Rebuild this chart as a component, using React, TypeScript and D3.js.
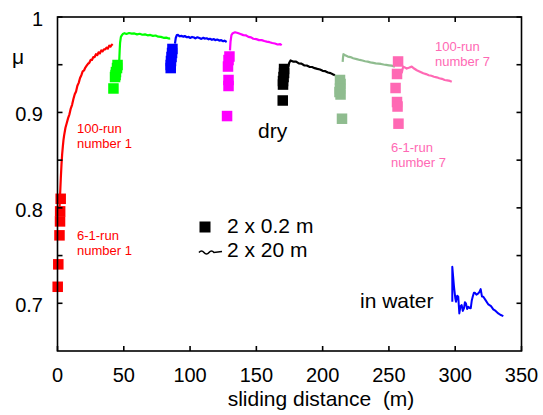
import React from "react";
import * as d3 from "d3";

// ---- data ----
const xTicks = [0, 50, 100, 150, 200, 250, 300, 350];
const xTopTicks = [50, 100, 150, 200, 250, 300];
const yTicks = [0.7, 0.75, 0.8, 0.85, 0.9, 0.95, 1];
const yTickLabels = ["0.7", "", "0.8", "", "0.9", "", "1"];

// 2 x 20 m continuous runs (dry)
const lineRed: [number, number][] = [
  [1.5, 0.8], [2, 0.815], [2.5, 0.831], [3, 0.845], [3.5, 0.856], [4, 0.864], [4.5, 0.871], [5, 0.876],
  [6, 0.884], [7, 0.889], [8, 0.894], [9, 0.898], [10, 0.904], [11, 0.908], [12, 0.914], [13, 0.919],
  [14, 0.922], [15, 0.928], [16, 0.931], [17, 0.936], [18, 0.939], [19, 0.943], [20, 0.944], [21, 0.947],
  [22, 0.949], [23, 0.951], [24, 0.952], [25, 0.955], [26, 0.955], [27, 0.958], [28, 0.958], [29, 0.961],
  [30, 0.96], [31, 0.963], [32, 0.962], [33, 0.965], [34, 0.964], [35, 0.966], [36, 0.966], [37, 0.968],
  [38, 0.967], [39, 0.97], [40, 0.969], [41, 0.971], [41.5, 0.97],
];
const lineGreen: [number, number][] = [
  [46.6, 0.955], [46.9, 0.965], [47.2, 0.973], [47.8, 0.979], [48.6, 0.981], [49.5, 0.9825], [50.5, 0.983],
  [52, 0.9822], [54, 0.9832], [56, 0.9826], [58, 0.9828], [60, 0.9818], [62, 0.9824], [64, 0.9814],
  [66, 0.9818], [68, 0.9808], [70, 0.9812], [72, 0.9802], [74, 0.9806], [76, 0.9794], [78, 0.9792],
  [80, 0.9782], [82, 0.9784], [84, 0.9774], [85, 0.9776],
];
const lineBlue: [number, number][] = [
  [88.6, 0.972], [89.2, 0.978], [90, 0.981], [91, 0.9812], [92, 0.9798], [93.5, 0.9802], [95, 0.9794],
  [96, 0.9801], [97.5, 0.9788], [99, 0.9792], [100, 0.9781], [101.5, 0.9791], [103, 0.9785], [104, 0.9776],
  [105.5, 0.9787], [107, 0.9779], [108.5, 0.9771], [110, 0.9782], [111, 0.9774], [112.5, 0.9777],
  [114, 0.9766], [115, 0.9772], [116.5, 0.9761], [118, 0.9768], [119, 0.9758], [120.5, 0.9764],
  [122, 0.9753], [123.5, 0.9757], [125, 0.9746], [126, 0.9752], [127.6, 0.9738],
];
const lineMagenta: [number, number][] = [
  [130.1, 0.965], [130.5, 0.974], [131.2, 0.981], [132.2, 0.983], [133.9, 0.984], [136, 0.9832],
  [138, 0.9822], [140.2, 0.981], [142, 0.9808], [144, 0.9792], [146, 0.9786], [147.7, 0.9772],
  [150, 0.9768], [152, 0.9758], [154, 0.9758], [156, 0.9748], [157.8, 0.9742], [160, 0.9736],
  [162, 0.9728], [164, 0.9722], [166, 0.9712], [168, 0.9716], [169.1, 0.9704],
];
const lineBlack: [number, number][] = [
  [174.1, 0.948], [174.8, 0.952], [175.8, 0.9545], [178, 0.9532], [180, 0.9532], [182, 0.9514],
  [184, 0.9512], [186, 0.9494], [188, 0.9492], [190, 0.9478], [192, 0.9476], [194, 0.9464],
  [196, 0.9456], [198, 0.945], [200, 0.9436], [202, 0.9432], [204, 0.9418], [206, 0.9412],
  [208, 0.9398], [209.3, 0.939],
];
const lineSage: [number, number][] = [
  [215.1, 0.953], [215.4, 0.958], [215.7, 0.961], [217, 0.9598], [219, 0.9585], [221, 0.958],
  [223, 0.9568], [225.7, 0.9558], [228, 0.955], [230, 0.9544], [232, 0.9536], [234, 0.9532],
  [236, 0.9524], [238.2, 0.952], [240, 0.9514], [242, 0.9512], [244, 0.9508], [246, 0.9502],
  [248, 0.9498], [250, 0.9494], [252, 0.949], [254.5, 0.948],
];
const linePink: [number, number][] = [
  [259.6, 0.941], [260.2, 0.945], [260.8, 0.948], [262, 0.9472], [263.4, 0.946], [265, 0.9468],
  [267.2, 0.948], [269, 0.946], [271, 0.9442], [273, 0.943], [275.9, 0.941], [278, 0.9402],
  [280, 0.939], [282, 0.9384], [284, 0.9374], [286, 0.9368], [288, 0.9358], [290, 0.9352],
  [292, 0.934], [294, 0.9336], [296, 0.933], [297.4, 0.9322],
];
// in water run
const lineWater: [number, number][] = [
  [297.8, 0.7016], [297.8, 0.7383], [298.3, 0.73], [299.1, 0.7173], [300.1, 0.705], [300.6, 0.7016],
  [301.5, 0.708], [302.3, 0.7068], [303.1, 0.6894], [304, 0.697], [304.9, 0.6981], [305.7, 0.692],
  [306.6, 0.6947], [307.3, 0.701], [308.1, 0.6999], [309, 0.694], [309.9, 0.6963], [310.8, 0.695],
  [311.7, 0.6947], [312.5, 0.703], [313.2, 0.7068], [314.1, 0.711], [314.9, 0.711], [316, 0.709],
  [317.4, 0.7104], [318.3, 0.712], [319.2, 0.7149], [320.2, 0.707], [321.2, 0.7068], [323, 0.703],
  [325, 0.6988], [327, 0.697], [328.7, 0.6936], [330.5, 0.692], [332.5, 0.6894], [334, 0.688],
  [336.3, 0.6866],
];

// 2 x 0.2 m short runs (6-1-run)
const sqRedX = [2.4, 2.0, 1.9, 1.5, 0.6, 0.15];
const sqRedY = [0.8095, 0.7963, 0.7858, 0.7712, 0.7408, 0.7173];
const sqGreenX = [45.3, 44.9, 44.1, 43.8, 43.4, 42.2];
const sqGreenY = [0.9497, 0.9465, 0.9423, 0.9392, 0.9371, 0.9251];
const sqBlueX = [86.7, 86.4, 86.0, 85.6, 85.4, 85.4];
const sqBlueY = [0.9665, 0.9623, 0.9581, 0.9539, 0.9497, 0.9465];
const sqMagentaX = [129.7, 129.0, 128.6, 129.0, 129.0, 127.9];
const sqMagentaY = [0.9586, 0.9549, 0.9481, 0.934, 0.9277, 0.8962];
const sqBlackX = [170.9, 170.9, 170.5, 170.1, 170.1, 169.9];
const sqBlackY = [0.9455, 0.9413, 0.9371, 0.9329, 0.9292, 0.9125];
const sqSageX = [213.1, 213.5, 213.1, 212.7, 213.5, 214.6];
const sqSageY = [0.934, 0.9298, 0.925, 0.9214, 0.9188, 0.8934];
const sqPinkX = [256.9, 256.1, 255.0, 256.1, 256.5, 257.2];
const sqPinkY = [0.9534, 0.9403, 0.9256, 0.9109, 0.9062, 0.8882];

const C = {
  red: "#ff0000",
  green: "#00ff00",
  blue: "#0000ff",
  magenta: "#ff00ff",
  black: "#000000",
  sage: "#8fbc8f",
  pink: "#ff69b4",
};

const series = [
  { line: lineRed, sx: sqRedX, sy: sqRedY, color: C.red },
  { line: lineGreen, sx: sqGreenX, sy: sqGreenY, color: C.green },
  { line: lineBlue, sx: sqBlueX, sy: sqBlueY, color: C.blue },
  { line: lineMagenta, sx: sqMagentaX, sy: sqMagentaY, color: C.magenta },
  { line: lineBlack, sx: sqBlackX, sy: sqBlackY, color: C.black },
  { line: lineSage, sx: sqSageX, sy: sqSageY, color: C.sage },
  { line: linePink, sx: sqPinkX, sy: sqPinkY, color: C.pink },
];

const W = 543;
const H = 415;
const L = 57.5, R = 521.5, T = 17, B = 351;
const FONT = "'Liberation Sans', Arial, Helvetica, sans-serif";

export default function App() {
  const x = d3.scaleLinear().domain([0, 350]).range([L, R]);
  const y = d3.scaleLinear().domain([0.65, 1]).range([B, T]);
  const line = d3
    .line<[number, number]>()
    .x((d) => x(d[0]))
    .y((d) => y(d[1]));
  const SQ = 10.5;
  const tl = 5;

  return (
    <svg
      width={W}
      height={H}
      style={{ position: "absolute", left: 0, top: 0, background: "#fff" }}
      fontFamily={FONT}
    >
      <rect x={0} y={0} width={W} height={H} fill="#fff" />
      {/* lines */}
      {series.map((s, i) => (
        <path key={"l" + i} d={line(s.line) || ""} fill="none" stroke={s.color} strokeWidth={2.2} strokeLinejoin="round" />
      ))}
      <path d={line(lineWater) || ""} fill="none" stroke={C.blue} strokeWidth={2} strokeLinejoin="round" />
      {/* squares */}
      {series.map((s, i) =>
        s.sx.map((dx, j) => (
          <rect
            key={"s" + i + "-" + j}
            x={x(dx) - SQ / 2}
            y={y(s.sy[j]) - SQ / 2}
            width={SQ}
            height={SQ}
            fill={s.color}
          />
        ))
      )}

      {/* frame */}
      <rect x={L} y={T} width={R - L} height={B - T} fill="none" stroke="#000" strokeWidth={1.6} />
      {xTicks.map((t) => (
        <g key={"xt" + t}>
          <line x1={x(t)} x2={x(t)} y1={B} y2={B - tl} stroke="#000" strokeWidth={1.6} />
          <text x={x(t)} y={382} textAnchor="middle" fontSize={20} fill="#000">
            {t}
          </text>
        </g>
      ))}
      {xTopTicks.map((t) => (
        <line key={"xtt" + t} x1={x(t)} x2={x(t)} y1={T} y2={T + tl} stroke="#000" strokeWidth={1.6} />
      ))}
      {yTicks.map((t, i) => (
        <g key={"yt" + t}>
          <line x1={L} x2={L + tl} y1={y(t)} y2={y(t)} stroke="#000" strokeWidth={1.6} />
          <line x1={R} x2={R - tl} y1={y(t)} y2={y(t)} stroke="#000" strokeWidth={1.6} />
          {yTickLabels[i] && (
            <text x={43} y={y(t) + 9} textAnchor="end" fontSize={20} fill="#000">
              {yTickLabels[i]}
            </text>
          )}
        </g>
      ))}

      {/* axis titles */}
      <text x={321} y={406} textAnchor="middle" fontSize={21} fill="#000" style={{ whiteSpace: "pre" }}>
        {"sliding distance  (m)"}
      </text>
      <text x={18} y={64} textAnchor="middle" fontSize={21} fill="#000">
        μ
      </text>

      {/* annotations */}
      <text x={77} y={132.5} fontSize={13} fill={C.red}>100-run</text>
      <text x={77} y={147.5} fontSize={13} fill={C.red}>number 1</text>
      <text x={77} y={239.5} fontSize={13} fill={C.red}>6-1-run</text>
      <text x={77} y={255} fontSize={13} fill={C.red}>number 1</text>
      <text x={435} y={50.5} fontSize={13} fill={C.pink}>100-run</text>
      <text x={435} y={66} fontSize={13} fill={C.pink}>number 7</text>
      <text x={391} y={151.5} fontSize={13} fill={C.pink}>6-1-run</text>
      <text x={391} y={166.5} fontSize={13} fill={C.pink}>number 7</text>
      <text x={258} y={138} fontSize={21} fill="#000">dry</text>
      <text x={360} y={308} fontSize={21} fill="#000">in water</text>

      {/* legend */}
      <rect x={199.5} y={221.5} width={11} height={11} fill="#000" />
      <text x={227} y={233.3} fontSize={21} fill="#000">2 x 0.2 m</text>
      <path d="M199,252.5 q2.5,-3 5,0 t5,0 t5,0 L222,251.5" fill="none" stroke="#000" strokeWidth={1.6} />
      <text x={227} y={257.3} fontSize={21} fill="#000">2 x 20 m</text>
    </svg>
  );
}
